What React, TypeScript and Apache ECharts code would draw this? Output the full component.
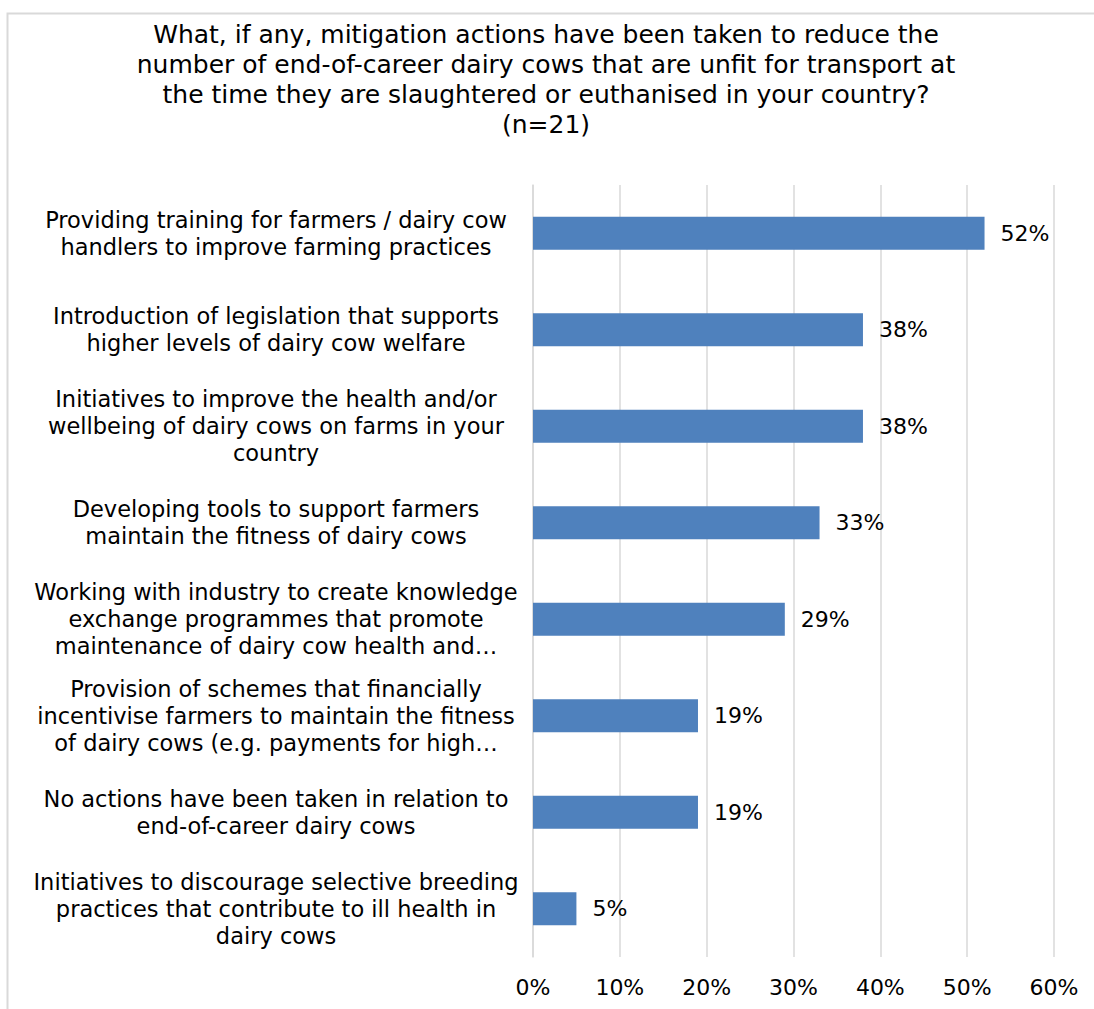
import React, { useEffect, useRef } from "react";
import * as echarts from "echarts";

const titleLines = [
  "What, if any, mitigation actions have been taken to reduce the",
  "number of end-of-career dairy cows that are unfit for transport at",
  "the time they are slaughtered or euthanised in your country?",
  "(n=21)",
];

const categories = [
  "Providing training for farmers / dairy cow\nhandlers to improve farming practices",
  "Introduction of legislation that supports\nhigher levels of dairy cow welfare",
  "Initiatives to improve the health and/or\nwellbeing of dairy cows on farms in your\ncountry",
  "Developing tools to support farmers\nmaintain the fitness of dairy cows",
  "Working with industry to create knowledge\nexchange programmes that promote\nmaintenance of dairy cow health and…",
  "Provision of schemes that financially\nincentivise farmers to maintain the fitness\nof dairy cows (e.g. payments for high…",
  "No actions have been taken in relation to\nend-of-career dairy cows",
  "Initiatives to discourage selective breeding\npractices that contribute to ill health in\ndairy cows",
];

const values = [52, 38, 38, 33, 29, 19, 19, 5];

const FONT = "DejaVu Sans, Verdana, sans-serif";

export default function App() {
  const ref = useRef<HTMLDivElement>(null);
  useEffect(() => {
    document.body.style.margin = "0";
    if (!ref.current) return;
    const chart = echarts.init(ref.current, null, { renderer: "svg" });
    chart.setOption({
      animation: false,
      backgroundColor: "#ffffff",
      textStyle: { fontFamily: FONT },
      title: {
        text: titleLines.join("\n"),
        left: 541,
        top: 14,
        textAlign: "center",
        textStyle: {
          fontFamily: FONT,
          fontSize: 25,
          fontWeight: "normal",
          color: "#000000",
          lineHeight: 30,
        },
      },
      graphic: [
        {
          type: "rect",
          shape: { x: 7.5, y: 13.5, width: 1200, height: 1100 },
          style: { fill: "none", stroke: "#d9d9d9", lineWidth: 2 },
          silent: true,
        },
      ],
      grid: { left: 533, right: 40, top: 185, bottom: 52, containLabel: false },
      xAxis: {
        type: "value",
        min: 0,
        max: 60,
        interval: 10,
        axisLine: { show: false },
        axisTick: { show: false },
        splitLine: { show: true, lineStyle: { color: "#d9d9d9", width: 1.5 } },
        axisLabel: {
          formatter: "{value}%",
          color: "#000000",
          fontSize: 22,
          fontFamily: FONT,
          margin: 19,
        },
      },
      yAxis: {
        type: "category",
        data: categories,
        inverse: true,
        axisLine: { show: true, lineStyle: { color: "#d9d9d9", width: 1.5 } },
        axisTick: { show: false },
        axisLabel: {
          color: "#000000",
          fontSize: 22.5,
          fontFamily: FONT,
          lineHeight: 27,
          align: "center",
          margin: 257,
          interval: 0,
        },
      },
      series: [
        {
          type: "bar",
          data: values,
          barCategoryGap: "66%",
          itemStyle: { color: "#4F81BD" },
          label: {
            show: true,
            position: "right",
            distance: 16,
            formatter: "{c}%",
            color: "#000000",
            fontSize: 22,
            fontFamily: FONT,
          },
        },
      ],
    });
    return () => chart.dispose();
  }, []);
  return <div ref={ref} style={{ width: 1094, height: 1009 }} />;
}
